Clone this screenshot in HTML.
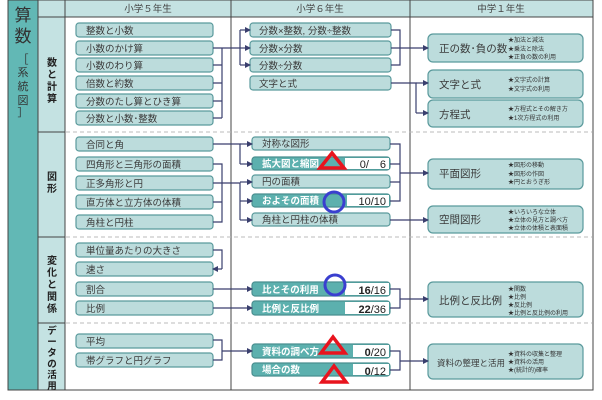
<!DOCTYPE html>
<html><head><meta charset="utf-8"><style>
html,body{margin:0;padding:0;background:#fff}
svg{display:block;font-family:"Liberation Sans","Noto Sans CJK JP",sans-serif}
.b{fill:#bcdcdc;stroke:#5a9a9c;stroke-width:1.2}
.d{fill:#5cb0ae;stroke:#4a8f90;stroke-width:1.2}
.t{font-size:9.5px;fill:#3a3a3a}
.w{font-size:9.5px;fill:#fff;font-weight:bold}
.s{font-size:6px;fill:#333}
.l{stroke:#3a3f6e;stroke-width:1.2;fill:none}
.a{fill:#3a3f6e}
</style></head><body>
<svg width="602" height="400" viewBox="0 0 602 400">
<defs><marker id="m" markerWidth="6" markerHeight="6" refX="5" refY="3" orient="auto" markerUnits="userSpaceOnUse"><path d="M0,0 L6,3 L0,6 z" class="a"/></marker></defs>
<rect x="8" y="0" width="30" height="390" fill="#62b8b5" stroke="#444" stroke-width="1"/>
<rect x="38" y="0" width="27" height="390" fill="#c4e2e2" stroke="#444" stroke-width="1"/>
<rect x="65" y="0" width="528" height="17" fill="#c4e2e2" stroke="#444" stroke-width="1"/>
<rect x="65" y="17" width="528" height="373" fill="#fff" stroke="#444" stroke-width="1"/>
<line x1="231" y1="0" x2="231" y2="390" stroke="#444"/>
<line x1="410" y1="0" x2="410" y2="390" stroke="#444"/>
<line x1="38" y1="17" x2="65" y2="17" stroke="#444"/>
<g stroke="#444"><line x1="38" y1="132" x2="65" y2="132"/><line x1="38" y1="237" x2="65" y2="237"/><line x1="38" y1="323" x2="65" y2="323"/></g>
<g stroke="#bbb" stroke-dasharray="4,3"><line x1="66" y1="132" x2="592" y2="132"/><line x1="66" y1="237" x2="592" y2="237"/><line x1="66" y1="323" x2="592" y2="323"/></g>
<g font-size="9.5" fill="#444" text-anchor="middle"><text x="148" y="12">小学５年生</text><text x="320" y="12">小学６年生</text><text x="501" y="12">中学１年生</text></g>
<g font-size="17" fill="#333" text-anchor="middle"><text x="23" y="21">算</text><text x="23" y="42">数</text></g>
<g font-size="11" fill="#333" text-anchor="middle"><text x="23" y="63">［</text><text x="23" y="76">系</text><text x="23" y="90">統</text><text x="23" y="104">図</text><text x="23" y="116">］</text></g>
<g font-size="10" fill="#222" font-weight="bold" text-anchor="middle">
<text x="52" y="66">数</text><text x="52" y="78">と</text><text x="52" y="90">計</text><text x="52" y="102">算</text>
<text x="52" y="180">図</text><text x="52" y="192">形</text>
<text x="52" y="264">変</text><text x="52" y="276">化</text><text x="52" y="288">と</text><text x="52" y="300">関</text><text x="52" y="312">係</text>
</g>
<g font-size="9.5" fill="#222" font-weight="bold" text-anchor="middle">
<text x="52" y="334">デ</text><text x="52" y="345">ー</text><text x="52" y="356">タ</text><text x="52" y="367">の</text><text x="52" y="378">活</text><text x="52" y="389">用</text></g>
<g>
<rect class="b" x="76" y="23" width="137" height="14" rx="3"/><text class="t" x="86" y="34">整数と小数</text>
<rect class="b" x="76" y="41" width="137" height="14" rx="3"/><text class="t" x="86" y="52">小数のかけ算</text>
<rect class="b" x="76" y="58" width="137" height="14" rx="3"/><text class="t" x="86" y="69">小数のわり算</text>
<rect class="b" x="76" y="76" width="137" height="14" rx="3"/><text class="t" x="86" y="87">倍数と約数</text>
<rect class="b" x="76" y="94" width="137" height="14" rx="3"/><text class="t" x="86" y="105">分数のたし算とひき算</text>
<rect class="b" x="76" y="111" width="137" height="14" rx="3"/><text class="t" x="86" y="122">分数と小数･整数</text>
<rect class="b" x="76" y="137" width="137" height="14" rx="3"/><text class="t" x="86" y="148">合同と角</text>
<rect class="b" x="76" y="157" width="137" height="14" rx="3"/><text class="t" x="86" y="168">四角形と三角形の面積</text>
<rect class="b" x="76" y="176" width="137" height="14" rx="3"/><text class="t" x="86" y="187">正多角形と円</text>
<rect class="b" x="76" y="195" width="137" height="14" rx="3"/><text class="t" x="86" y="206">直方体と立方体の体積</text>
<rect class="b" x="76" y="215" width="137" height="14" rx="3"/><text class="t" x="86" y="226">角柱と円柱</text>
<rect class="b" x="76" y="243" width="137" height="14" rx="3"/><text class="t" x="86" y="254">単位量あたりの大きさ</text>
<rect class="b" x="76" y="262" width="137" height="14" rx="3"/><text class="t" x="86" y="273">速さ</text>
<rect class="b" x="76" y="282" width="137" height="14" rx="3"/><text class="t" x="86" y="293">割合</text>
<rect class="b" x="76" y="301" width="137" height="14" rx="3"/><text class="t" x="86" y="312">比例</text>
<rect class="b" x="76" y="334" width="137" height="14" rx="3"/><text class="t" x="86" y="345">平均</text>
<rect class="b" x="76" y="353" width="137" height="14" rx="3"/><text class="t" x="86" y="364">帯グラフと円グラフ</text>
</g>
<g>
<rect class="b" x="250" y="23" width="141" height="14" rx="3"/><text class="t" x="259" y="34">分数×整数, 分数÷整数</text>
<rect class="b" x="250" y="41" width="141" height="14" rx="3"/><text class="t" x="259" y="52">分数×分数</text>
<rect class="b" x="250" y="58" width="141" height="14" rx="3"/><text class="t" x="259" y="69">分数÷分数</text>
<rect class="b" x="250" y="76" width="141" height="14" rx="3"/><text class="t" x="259" y="87">文字と式</text>
<rect class="b" x="252" y="137" width="138" height="13" rx="3"/><text class="t" x="262" y="147">対称な図形</text>
<rect class="d" x="252" y="157" width="138" height="13" rx="3"/><text class="w" x="262" y="167">拡大図と縮図</text>
<rect class="b" x="252" y="175" width="138" height="13" rx="3"/><text class="t" x="262" y="185">円の面積</text>
<rect class="d" x="252" y="194" width="138" height="13" rx="3"/><text class="w" x="262" y="204">およその面積</text>
<rect class="b" x="252" y="213" width="138" height="13" rx="3"/><text class="t" x="262" y="223">角柱と円柱の体積</text>
<rect class="d" x="252" y="282" width="138" height="14" rx="3"/><text class="w" x="262" y="293">比とその利用</text>
<rect class="d" x="252" y="301" width="138" height="14" rx="3"/><text class="w" x="262" y="312">比例と反比例</text>
<rect class="d" x="252" y="344" width="138" height="14" rx="3"/><text class="w" x="262" y="355">資料の調べ方</text>
<rect class="d" x="252" y="363" width="138" height="13" rx="3"/><text class="w" x="262" y="373">場合の数</text>
<g fill="#fff"><rect x="345" y="158" width="44" height="11"/><rect x="347" y="195" width="42" height="11"/><rect x="345" y="283" width="44" height="12"/><rect x="345" y="302" width="44" height="12"/><rect x="353" y="345" width="36" height="12"/><rect x="353" y="364" width="36" height="11"/></g>
<g font-size="11" fill="#222" text-anchor="end"><text x="386" y="168">0/　6</text><text x="386" y="205">10/10</text><text x="386" y="294"><tspan font-weight="bold">16</tspan>/16</text><text x="386" y="313"><tspan font-weight="bold">22</tspan>/36</text><text x="386" y="356"><tspan font-weight="bold">0</tspan>/20</text><text x="386" y="375"><tspan font-weight="bold">0</tspan>/12</text></g>
</g>
<g>
<rect class="b" x="428" y="34" width="155" height="28" rx="5"/><text class="t" x="439" y="52" style="font-size:10.5px">正の数･負の数</text>
<text class="s" x="508" y="42">★加法と減法</text><text class="s" x="508" y="51">★乗法と除法</text><text class="s" x="508" y="59">★正負の数の利用</text>
<rect class="b" x="428" y="70" width="155" height="28" rx="5"/><text class="t" x="439" y="88" style="font-size:10.5px">文字と式</text>
<text class="s" x="508" y="82">★文字式の計算</text><text class="s" x="508" y="91">★文字式の利用</text>
<rect class="b" x="428" y="100" width="155" height="27" rx="5"/><text class="t" x="439" y="118" style="font-size:10.5px">方程式</text>
<text class="s" x="508" y="111">★方程式とその解き方</text><text class="s" x="508" y="120">★1次方程式の利用</text>
<rect class="b" x="428" y="159" width="155" height="30" rx="5"/><text class="t" x="439" y="177" style="font-size:10.5px">平面図形</text>
<text class="s" x="508" y="167">★図形の移動</text><text class="s" x="508" y="176">★図形の作図</text><text class="s" x="508" y="184">★円とおうぎ形</text>
<rect class="b" x="428" y="206" width="155" height="27" rx="5"/><text class="t" x="439" y="223" style="font-size:10.5px">空間図形</text>
<text class="s" x="508" y="214">★いろいろな立体</text><text class="s" x="508" y="222">★立体の見方と調べ方</text><text class="s" x="508" y="230">★立体の体積と表面積</text>
<rect class="b" x="428" y="282" width="155" height="35" rx="5"/><text class="t" x="439" y="304" style="font-size:10.5px">比例と反比例</text>
<text class="s" x="508" y="291">★関数</text><text class="s" x="508" y="299">★比例</text><text class="s" x="508" y="307">★反比例</text><text class="s" x="508" y="315">★比例と反比例の利用</text>
<rect class="b" x="428" y="344" width="155" height="35" rx="5"/><text class="t" x="437" y="366" style="font-size:8.5px">資料の整理と活用</text>
<text class="s" x="508" y="356">★資料の収集と整理</text><text class="s" x="508" y="364">★資料の活用</text><text class="s" x="508" y="372">★(統計的)確率</text>
</g>
<g class="l">
<path d="M213,48 H240"/><path d="M213,65 H222 M213,83 H222 M213,101 H222 M213,118 H222 M222,48 V118"/>
<path d="M240,30 V65"/><path d="M240,30 H250" marker-end="url(#m)"/><path d="M240,48 H250" marker-end="url(#m)"/><path d="M240,65 H250" marker-end="url(#m)"/>
<path d="M391,30 H400 V65 H391 M391,48 H400"/><path d="M400,48 H428" marker-end="url(#m)"/>
<path d="M391,83 H416 V113"/><path d="M416,83 H428" marker-end="url(#m)"/><path d="M416,113 H428" marker-end="url(#m)"/>
<path d="M213,144 H240 V164"/><path d="M240,144 H252" marker-end="url(#m)"/><path d="M240,164 H252" marker-end="url(#m)"/>
<path d="M213,164 H222 V222 H213 M213,202 H222"/>
<path d="M213,183 H240 V220"/><path d="M240,182 H252" marker-end="url(#m)"/><path d="M240,201 H252" marker-end="url(#m)"/><path d="M240,220 H252" marker-end="url(#m)"/>
<path d="M390,144 H400 V201 H390 M390,164 H400 M390,182 H400"/><path d="M400,173 H428" marker-end="url(#m)"/>
<path d="M390,220 H428" marker-end="url(#m)"/>
<path d="M213,250 H222 V269"/><path d="M222,269 H213" marker-end="url(#m)"/>
<path d="M213,289 H252" marker-end="url(#m)"/><path d="M213,308 H252" marker-end="url(#m)"/>
<path d="M390,289 H400 V308 H390"/><path d="M400,299 H428" marker-end="url(#m)"/>
<path d="M213,340 H222 V360 H213"/><path d="M222,351 H252" marker-end="url(#m)"/>
<path d="M390,351 H400 V370 H390"/><path d="M400,361 H428" marker-end="url(#m)"/>
</g>
<g fill="none" stroke="#e8141e" stroke-width="3.5" stroke-linejoin="miter">
<path d="M332,153 L344,168 H320 Z"/><path d="M333,337 L345,353 H321 Z"/><path d="M334,366 L346,382 H322 Z"/></g>
<g fill="none" stroke="#3a3fcf" stroke-width="3"><circle cx="334" cy="202" r="10"/><circle cx="335" cy="285" r="10"/></g>
</svg>
</body></html>
